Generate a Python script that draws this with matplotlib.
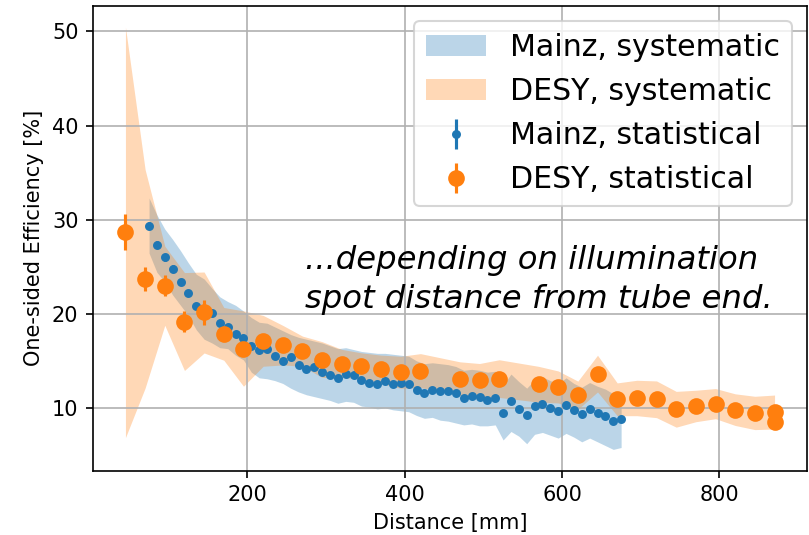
import matplotlib
matplotlib.use('Agg')
import matplotlib.pyplot as plt
import numpy as np

# Mainz scan, 10 mm steps
mainz_x = [75, 85, 95, 105, 115, 125, 135, 145, 155, 165,
           175, 185, 195, 205, 215, 225, 235, 245, 255, 265,
           275, 285, 295, 305, 315, 325, 335, 345, 355, 365,
           375, 385, 395, 405, 415, 425, 435, 445, 455, 465,
           475, 485, 495, 505, 515, 525, 535, 545, 555, 565,
           575, 585, 595, 605, 615, 625, 635, 645, 655, 665, 675]
mainz_eff = [29.36, 27.34, 25.99, 24.79, 23.37, 22.23, 20.85, 20.30, 20.07, 19.00,
             18.55, 17.87, 17.38, 16.60, 16.17, 16.28, 15.57, 15.00, 15.40, 14.61,
             14.18, 14.40, 13.79, 13.55, 13.23, 13.58, 13.51, 12.94, 12.62, 12.59,
             12.84, 12.59, 12.70, 12.59, 11.88, 11.60, 11.88, 11.84, 11.81, 11.63,
             11.06, 11.24, 11.17, 10.89, 11.06, 9.47, 10.71, 9.89, 9.22, 10.20,
             10.43, 10.04, 9.72, 10.35, 9.75, 9.33, 9.84, 9.42, 9.18, 8.62, 8.79]
mainz_stat = [0.40, 0.40, 0.38, 0.37, 0.36, 0.35, 0.34, 0.34, 0.33, 0.33,
              0.32, 0.32, 0.31, 0.31, 0.30, 0.30, 0.30, 0.29, 0.29, 0.29,
              0.28, 0.28, 0.28, 0.27, 0.27, 0.27, 0.27, 0.26, 0.26, 0.26,
              0.26, 0.26, 0.26, 0.25, 0.25, 0.25, 0.25, 0.25, 0.25, 0.25,
              0.24, 0.24, 0.24, 0.24, 0.24, 0.24, 0.24, 0.24, 0.24, 0.24,
              0.24, 0.24, 0.24, 0.24, 0.24, 0.24, 0.24, 0.24, 0.24, 0.24, 0.24]
mainz_sys_lo = [26.45, 24.4, 23.4, 22.0, 20.9, 19.8, 18.3, 17.3, 16.9, 16.4,
                16.3, 15.6, 15.1, 13.8, 13.2, 13.1, 12.9, 12.6, 12.1, 11.7,
                11.4, 11.2, 11.0, 10.8, 10.5, 10.7, 10.6, 10.2, 10.1, 9.9,
                10.0, 9.8, 9.7, 9.6, 9.2, 8.9, 9.0, 8.7, 8.6, 8.4,
                8.2, 8.3, 8.1, 8.1, 8.2, 6.6, 7.5, 7.0, 6.2, 7.2,
                7.4, 7.1, 6.8, 7.3, 6.9, 6.4, 6.8, 6.4, 6.0, 5.6, 5.8]
mainz_sys_hi = [32.3, 30.5, 29.0, 27.9, 26.7, 25.4, 24.2, 23.7, 22.7, 21.8,
                21.3, 20.9, 20.3, 19.6, 19.1, 19.0, 18.6, 18.2, 17.8, 17.5,
                17.3, 17.1, 16.9, 16.6, 16.3, 16.4, 16.2, 16.0, 15.9, 15.8,
                15.8, 15.7, 15.6, 15.5, 15.0, 14.7, 14.8, 14.7, 14.6, 14.4,
                14.0, 14.1, 14.0, 13.8, 13.9, 12.4, 13.6, 12.8, 12.1, 13.0,
                13.3, 12.9, 12.6, 13.2, 12.6, 12.2, 12.7, 12.3, 12.0, 11.5, 11.6]

# DESY scan, 25 mm steps (two measurements at 870 mm)
desy_x = [45, 70, 95, 120, 145, 170, 195, 220, 245, 270, 295,
          320, 345, 370, 395, 420, 470, 495, 520, 570, 595,
          620, 645, 670, 695, 720, 745, 770, 795, 820, 845, 870, 870]
desy_eff = [28.65, 23.72, 22.98, 19.18, 20.14, 17.87, 16.31, 17.13, 16.67, 16.03, 15.14,
            14.72, 14.50, 14.11, 13.79, 13.97, 13.10, 12.92, 13.12, 12.52, 12.23,
            11.35, 13.65, 10.92, 11.06, 10.92, 9.86, 10.21, 10.46, 9.82, 9.47, 9.57, 8.51]
desy_stat = [1.9, 1.3, 1.1, 1.1, 1.3, 0.6, 0.4, 0.5, 0.3, 0.3, 0.3,
             0.3, 0.3, 0.3, 0.3, 0.3, 0.3, 0.3, 0.3, 0.3, 0.3,
             0.3, 0.4, 0.3, 0.3, 0.3, 0.3, 0.3, 0.3, 0.3, 0.3, 0.3, 0.3]
desy_sys = [21.8, 11.6, 4.2, 5.2, 4.3, 2.8, 4.0, 2.7, 2.1, 1.6, 1.9,
            1.5, 1.35, 1.5, 1.7, 1.8, 1.8, 1.8, 2.0, 1.9, 1.7,
            1.5, 1.95, 1.74, 1.88, 1.95, 1.9, 1.67, 1.6, 1.68, 1.77, 1.8, 2.1]

fig = plt.figure(figsize=(809 / 150, 535 / 150), dpi=150)
ax = fig.add_axes([93 / 809, 64.5 / 535, 714 / 809, 464.5 / 535])

d_eff = np.array(desy_eff)
d_sys = np.array(desy_sys)
ax.fill_between(mainz_x, mainz_sys_lo, mainz_sys_hi, color='C0', alpha=0.3,
                linewidth=0, label='Mainz, systematic')
ax.fill_between(desy_x, d_eff - d_sys, d_eff + d_sys, color='C1', alpha=0.3,
                linewidth=0, label='DESY, systematic')
ax.errorbar(mainz_x, mainz_eff, yerr=mainz_stat, fmt='o', ms=3.3, color='C0',
            label='Mainz, statistical')
ax.errorbar(desy_x, desy_eff, yerr=desy_stat, fmt='o', ms=7, color='C1',
            label='DESY, statistical')

ax.grid(True)
ax.set_xlabel('Distance [mm]')
ax.set_ylabel('One-sided Efficiency [%]')
ax.legend(loc='upper right', fontsize='x-large')
ax.text(273, 23.6, '...depending on illumination\nspot distance from tube end.',
        fontsize=15.5, style='italic', ha='left', va='center', linespacing=1.32)

plt.savefig('out.png', dpi=150)
